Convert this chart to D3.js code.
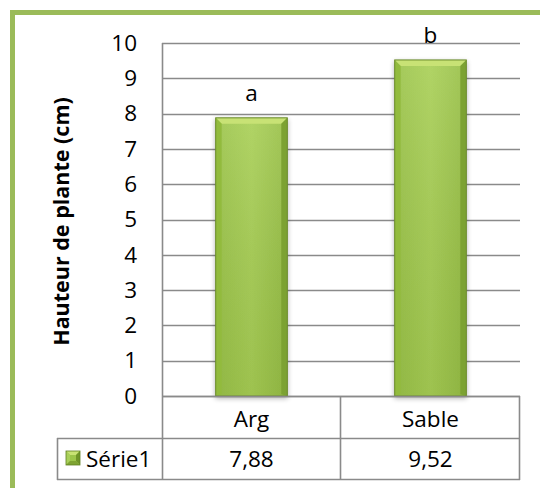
<!DOCTYPE html>
<html>
<head>
<meta charset="utf-8">
<script src="https://cdn.jsdelivr.net/npm/d3@7"></script>
<style>
  html, body { margin: 0; padding: 0; background: #fff; }
  svg { display: block; }
  text { font-family: "Open Sans", "Noto Sans", sans-serif; fill: #000; }
</style>
</head>
<body>
<svg id="chart" width="540" height="488"></svg>
<script>
// ---- data ----
const categories = ["Arg", "Sable"];
const values = [7.88, 9.52];
const valueLabels = ["7,88", "9,52"];
const letters = ["a", "b"];
const seriesName = "Série1";
const yTicks = [0, 1, 2, 3, 4, 5, 6, 7, 8, 9, 10];
const yTitle = "Hauteur de plante (cm)";

// ---- layout ----
const W = 540, H = 488;
const plot = { left: 162, right: 520, top: 43, bottom: 396 };
const table = { row1: 438, row2: 479, legendLeft: 57 };
const FS = 22.5;

const svg = d3.select("#chart");

const defs = svg.append("defs");
const g1 = defs.append("linearGradient").attr("id", "barFace").attr("x1", 0).attr("x2", 1).attr("y1", 0).attr("y2", 0);
g1.append("stop").attr("offset", "0%").attr("stop-color", "#9ac348");
g1.append("stop").attr("offset", "50%").attr("stop-color", "#a8cf55");
g1.append("stop").attr("offset", "100%").attr("stop-color", "#96be44");
const g2 = defs.append("linearGradient").attr("id", "barV").attr("x1", 0).attr("x2", 0).attr("y1", 0).attr("y2", 1);
g2.append("stop").attr("offset", "0%").attr("stop-color", "#ffffff").attr("stop-opacity", 0.1);
g2.append("stop").attr("offset", "100%").attr("stop-color", "#000000").attr("stop-opacity", 0.06);
const sh = defs.append("filter").attr("id", "shadow").attr("x", "-20%").attr("y", "-20%").attr("width", "140%").attr("height", "140%");
sh.append("feGaussianBlur").attr("in", "SourceAlpha").attr("stdDeviation", 2.5);
sh.append("feOffset").attr("dx", 0).attr("dy", 2).attr("result", "b");
sh.append("feComponentTransfer").append("feFuncA").attr("type", "linear").attr("slope", 0.3);
const mg = sh.append("feMerge");
mg.append("feMergeNode");
mg.append("feMergeNode").attr("in", "SourceGraphic");

// green frame (only top/left visible)
svg.append("rect")
  .attr("x", 12.5).attr("y", 12.5)
  .attr("width", W + 20).attr("height", H + 20)
  .attr("fill", "#fff")
  .attr("stroke", "#9bbb59").attr("stroke-width", 5);

// ---- scales ----
const x = d3.scaleBand().domain(categories)
  .range([plot.left, plot.right]).paddingInner(0.6).paddingOuter(0.3);
const y = d3.scaleLinear().domain([0, 10]).range([plot.bottom, plot.top]);
const cat = d3.scaleBand().domain(categories).range([plot.left, plot.right]);

const gridColor = "#8a8a8a";

// gridlines
svg.append("g").selectAll("line").data(yTicks).join("line")
  .attr("x1", plot.left).attr("x2", plot.right)
  .attr("y1", d => Math.round(y(d)) + 0.5).attr("y2", d => Math.round(y(d)) + 0.5)
  .attr("stroke", gridColor).attr("stroke-width", 1.6);

// y axis labels
const yAxis = svg.append("g")
  .attr("transform", `translate(${plot.left},0)`)
  .call(d3.axisLeft(y).tickValues(yTicks).tickSize(0).tickPadding(25).tickFormat(d3.format("d")));
yAxis.select(".domain").remove();
yAxis.selectAll("text")
  .attr("font-size", FS)
  .attr("font-family", "'Open Sans', sans-serif")
  .attr("fill", "#000");

// y title
svg.append("text")
  .attr("transform", `translate(69,${(plot.top + plot.bottom) / 2 + 2}) rotate(-90)`)
  .attr("text-anchor", "middle")
  .attr("font-size", 21.5)
  .attr("font-weight", "bold")
  .text(yTitle);

// bars with bevel
const bev = 6;
const bars = svg.append("g").selectAll("g").data(values).join("g")
  .attr("filter", "url(#shadow)");
bars.each(function (v, i) {
  const g = d3.select(this);
  const x0 = x(categories[i]), x1 = x0 + x.bandwidth();
  const y0 = y(v), y1 = y(0);
  g.append("rect").attr("x", x0).attr("y", y0).attr("width", x1 - x0).attr("height", y1 - y0)
    .attr("fill", "url(#barFace)");
  g.append("rect").attr("x", x0).attr("y", y0).attr("width", x1 - x0).attr("height", y1 - y0)
    .attr("fill", "url(#barV)");
  g.append("polygon").attr("points", [[x0, y0], [x1, y0], [x1 - bev, y0 + bev], [x0 + bev, y0 + bev]].join(" "))
    .attr("fill", "#c8e274");
  g.append("polygon").attr("points", [[x0, y0], [x0 + bev, y0 + bev], [x0 + bev, y1 - bev * 0.3], [x0, y1]].join(" "))
    .attr("fill", "#92bb3e");
  g.append("polygon").attr("points", [[x1, y0], [x1 - bev, y0 + bev], [x1 - bev, y1 - bev * 0.3], [x1, y1]].join(" "))
    .attr("fill", "#7ca232");
  g.append("rect").attr("x", x0).attr("y", y0).attr("width", x1 - x0).attr("height", y1 - y0)
    .attr("fill", "none").attr("stroke", "#6a8a2a").attr("stroke-width", 1);
});

// letters above bars
svg.append("g").selectAll("text").data(letters).join("text")
  .attr("x", (d, i) => x(categories[i]) + x.bandwidth() / 2)
  .attr("y", (d, i) => y(values[i]) - 17)
  .attr("text-anchor", "middle")
  .attr("font-size", FS)
  .text(d => d);

// ---- data table ----
const tbl = svg.append("g").attr("stroke", gridColor).attr("stroke-width", 1.6).attr("fill", "none");
tbl.append("line").attr("x1", plot.left).attr("x2", plot.right).attr("y1", plot.bottom + 0.5).attr("y2", plot.bottom + 0.5);
tbl.append("line").attr("x1", table.legendLeft).attr("x2", plot.right).attr("y1", table.row1 + 0.5).attr("y2", table.row1 + 0.5);
tbl.append("line").attr("x1", table.legendLeft).attr("x2", plot.right).attr("y1", table.row2 + 0.5).attr("y2", table.row2 + 0.5);
tbl.append("line").attr("x1", plot.left + 0.5).attr("x2", plot.left + 0.5).attr("y1", plot.top).attr("y2", table.row2 + 1);
tbl.append("line").attr("x1", table.legendLeft + 0.5).attr("x2", table.legendLeft + 0.5).attr("y1", table.row1).attr("y2", table.row2 + 1);
categories.forEach((c, i) => {
  const xr = cat(c) + cat.bandwidth();
  tbl.append("line").attr("x1", Math.round(xr) - 0.5).attr("x2", Math.round(xr) - 0.5).attr("y1", plot.bottom).attr("y2", table.row2 + 1);
});

// category labels
svg.append("g").selectAll("text").data(categories).join("text")
  .attr("x", d => cat(d) + cat.bandwidth() / 2)
  .attr("y", 427)
  .attr("text-anchor", "middle")
  .attr("font-size", FS)
  .text(d => d);
// value labels
svg.append("g").selectAll("text").data(valueLabels).join("text")
  .attr("x", (d, i) => cat(categories[i]) + cat.bandwidth() / 2)
  .attr("y", 467)
  .attr("text-anchor", "middle")
  .attr("font-size", FS)
  .text(d => d);

// legend key
const kx = 66, ky = 451, ks = 14, kb = 4;
const key = svg.append("g");
key.append("rect").attr("x", kx).attr("y", ky).attr("width", ks).attr("height", ks).attr("fill", "#9cc54a");
key.append("polygon").attr("points", [[kx, ky], [kx + ks, ky], [kx + ks - kb, ky + kb], [kx + kb, ky + kb]].join(" ")).attr("fill", "#c8e274");
key.append("polygon").attr("points", [[kx, ky], [kx + kb, ky + kb], [kx + kb, ky + ks - kb], [kx, ky + ks]].join(" ")).attr("fill", "#a9d05a");
key.append("polygon").attr("points", [[kx + ks, ky], [kx + ks - kb, ky + kb], [kx + ks - kb, ky + ks - kb], [kx + ks, ky + ks]].join(" ")).attr("fill", "#6f9428");
key.append("polygon").attr("points", [[kx, ky + ks], [kx + kb, ky + ks - kb], [kx + ks - kb, ky + ks - kb], [kx + ks, ky + ks]].join(" ")).attr("fill", "#7ea332");
key.append("rect").attr("x", kx).attr("y", ky).attr("width", ks).attr("height", ks).attr("fill", "none").attr("stroke", "#5f7f22").attr("stroke-width", 0.8);

svg.append("text")
  .attr("x", 86).attr("y", 467)
  .attr("font-size", FS)
  .text(seriesName);
</script>
</body>
</html>
